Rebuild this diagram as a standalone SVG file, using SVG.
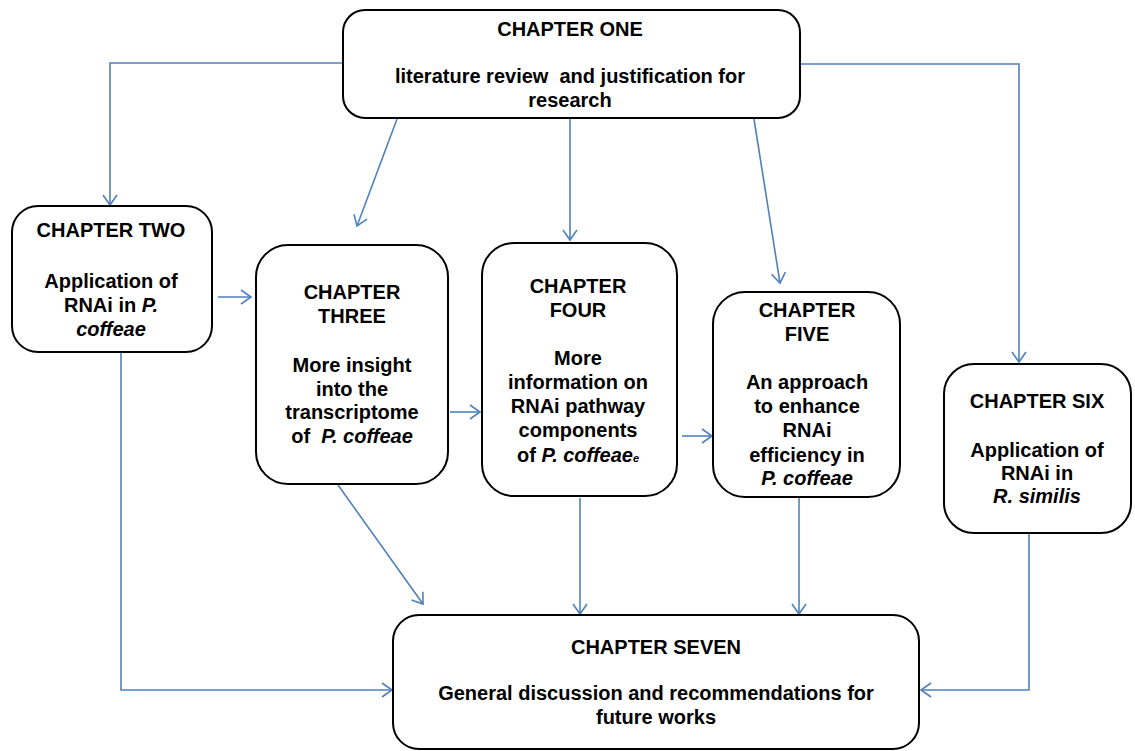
<svg xmlns="http://www.w3.org/2000/svg" width="1135" height="751" viewBox="0 0 1135 751">
<style>
.box{fill:#fff;stroke:#000;stroke-width:2}
.t{font-family:"Liberation Sans",Arial,sans-serif;font-weight:bold;font-size:20px;fill:#000;text-anchor:middle}
.i{font-style:italic}
.c{fill:none;stroke:#4f81bd;stroke-width:1.6}
</style>
<defs>
<marker id="ah" markerUnits="userSpaceOnUse" markerWidth="14" markerHeight="18" refX="12" refY="9" orient="auto">
<path d="M2,2 L12,9 L2,16" fill="none" stroke="#4f81bd" stroke-width="1.6"/>
</marker>
</defs>
<rect width="1135" height="751" fill="#fff"/>
<g id="connectors">
<polyline class="c" points="343,63 110,63 110,205" marker-end="url(#ah)"/>
<polyline class="c" points="800,64 1019,64 1019,362" marker-end="url(#ah)"/>
<line class="c" x1="397" y1="119" x2="357" y2="226" marker-end="url(#ah)"/>
<line class="c" x1="570" y1="119" x2="570" y2="240" marker-end="url(#ah)"/>
<line class="c" x1="754" y1="119" x2="780" y2="283" marker-end="url(#ah)"/>
<line class="c" x1="218" y1="297" x2="251" y2="297" marker-end="url(#ah)"/>
<line class="c" x1="450" y1="412" x2="480" y2="412" marker-end="url(#ah)"/>
<line class="c" x1="682" y1="436" x2="712" y2="436" marker-end="url(#ah)"/>
<polyline class="c" points="121,353 121,690 392,690" marker-end="url(#ah)"/>
<line class="c" x1="338" y1="485" x2="423" y2="604" marker-end="url(#ah)"/>
<line class="c" x1="580" y1="498" x2="580" y2="614" marker-end="url(#ah)"/>
<line class="c" x1="799" y1="498" x2="799" y2="614" marker-end="url(#ah)"/>
<polyline class="c" points="1029,534 1029,690 921,690" marker-end="url(#ah)"/>
</g>
<g id="ch1">
<rect class="box" x="343" y="10" width="457" height="108" rx="22"/>
<text class="t" x="570" y="36">CHAPTER ONE</text>
<text class="t" x="570" y="83" xml:space="preserve">literature review  and justification for</text>
<text class="t" x="570" y="107">research</text>
</g>
<g id="ch2">
<rect class="box" x="12" y="206" width="200" height="146" rx="26"/>
<text class="t" x="111" y="237">CHAPTER TWO</text>
<text class="t" x="111" y="288">Application of</text>
<text class="t" x="111" y="312">RNAi in <tspan class="i">P.</tspan></text>
<text class="t i" x="111" y="336">coffeae</text>
</g>
<g id="ch3">
<rect class="box" x="256" y="245" width="192" height="239" rx="32"/>
<text class="t" x="352" y="299">CHAPTER</text>
<text class="t" x="352" y="323">THREE</text>
<text class="t" x="352" y="372">More insight</text>
<text class="t" x="352" y="396">into the</text>
<text class="t" x="352" y="419">transcriptome</text>
<text class="t" x="352" y="443" xml:space="preserve">of  <tspan class="i">P. coffeae</tspan></text>
</g>
<g id="ch4">
<rect class="box" x="482" y="243" width="195" height="253" rx="32"/>
<text class="t" x="578" y="293">CHAPTER</text>
<text class="t" x="578" y="317">FOUR</text>
<text class="t" x="578" y="365">More</text>
<text class="t" x="578" y="389">information on</text>
<text class="t" x="578" y="413">RNAi pathway</text>
<text class="t" x="578" y="437">components</text>
<text class="t" x="578" y="462">of <tspan class="i">P. coffeae</tspan><tspan class="i" font-size="11px">e</tspan></text>
</g>
<g id="ch5">
<rect class="box" x="713" y="292" width="187" height="205" rx="32"/>
<text class="t" x="807" y="317">CHAPTER</text>
<text class="t" x="807" y="341">FIVE</text>
<text class="t" x="807" y="389">An approach</text>
<text class="t" x="807" y="413">to enhance</text>
<text class="t" x="807" y="437">RNAi</text>
<text class="t" x="807" y="462">efficiency in</text>
<text class="t i" x="807" y="485">P. coffeae</text>
</g>
<g id="ch6">
<rect class="box" x="944" y="364" width="187" height="169" rx="30"/>
<text class="t" x="1037" y="408">CHAPTER SIX</text>
<text class="t" x="1037" y="457">Application of</text>
<text class="t" x="1037" y="480">RNAi in</text>
<text class="t i" x="1037" y="503">R. similis</text>
</g>
<g id="ch7">
<rect class="box" x="393" y="615" width="526" height="134" rx="26"/>
<text class="t" x="656" y="654">CHAPTER SEVEN</text>
<text class="t" x="656" y="700">General discussion and recommendations for</text>
<text class="t" x="656" y="724">future works</text>
</g>
</svg>
